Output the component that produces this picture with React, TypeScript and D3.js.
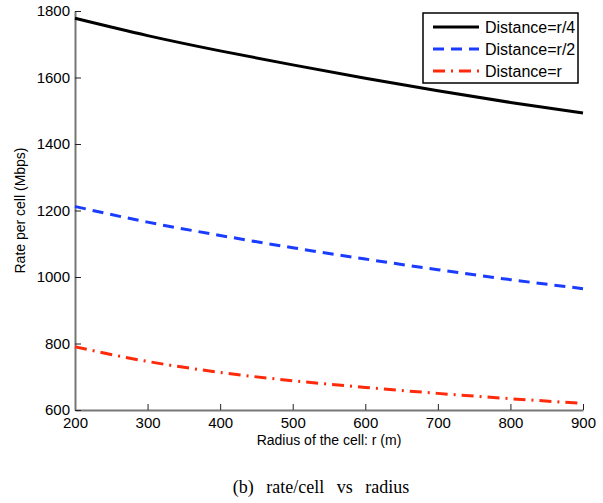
import React, { useEffect, useRef } from "react";
import * as d3 from "d3";

const radius = [200, 300, 400, 500, 600, 700, 800, 900];
const quarter = [1778, 1726, 1680, 1638, 1598, 1560, 1525, 1493];
const half = [1212, 1165, 1125, 1088, 1054, 1022, 992, 965];
const full = [790, 746, 713, 688, 668, 650, 634, 620];
const xTicks = [200, 300, 400, 500, 600, 700, 800, 900];
const yTicks = [600, 800, 1000, 1200, 1400, 1600, 1800];

const series = [
    { name: "Distance=r/4", values: quarter, color: "#000000", dash: null },
    { name: "Distance=r/2", values: half, color: "#1a3cff", dash: "11,7" },
    { name: "Distance=r", values: full, color: "#ff2a0a", dash: "12,6,2,6" },
];

const App = () => {
    const ref = useRef<SVGSVGElement>(null);

    useEffect(() => {
        const svg = d3.select(ref.current);
        svg.selectAll("*").remove();

        const left = 75, right = 583, top = 11, bottom = 410;
        const font = "Liberation Sans, Arial, Helvetica, sans-serif";

        const x = d3.scaleLinear().domain([200, 900]).range([left, right]);
        const y = d3.scaleLinear().domain([600, 1800]).range([bottom, top]);

        svg.append("rect").attr("width", 603).attr("height", 503).attr("fill", "#fff");

        // axes, ticks pointing inward
        const xAxis = svg.append("g")
            .attr("transform", `translate(0,${bottom})`)
            .call(d3.axisBottom(x).tickValues(xTicks).tickFormat(d3.format("d"))
                .tickSize(-6).tickSizeOuter(0).tickPadding(7));
        const yAxis = svg.append("g")
            .attr("transform", `translate(${left},0)`)
            .call(d3.axisLeft(y).tickValues(yTicks).tickFormat(d3.format("d"))
                .tickSize(-6).tickSizeOuter(0).tickPadding(5));

        [xAxis, yAxis].forEach(g => {
            g.select(".domain").attr("stroke", "#777").attr("stroke-width", 2);
            g.selectAll(".tick line").attr("stroke", "#222");
            g.selectAll("text").attr("font-family", font).attr("font-size", 15).attr("fill", "#000");
        });

        // lines
        const line = d3.line<number>()
            .x((d, i) => x(radius[i]))
            .y(d => y(d))
            .curve(d3.curveMonotoneX);

        series.forEach(s => {
            svg.append("path")
                .attr("d", line(s.values))
                .attr("fill", "none")
                .attr("stroke", s.color)
                .attr("stroke-width", 3)
                .attr("stroke-dasharray", s.dash);
        });

        // axis labels
        svg.append("text")
            .attr("x", (left + right) / 2).attr("y", 445)
            .attr("text-anchor", "middle")
            .attr("font-family", font).attr("font-size", 14)
            .text("Radius of the cell: r (m)");

        svg.append("text")
            .attr("transform", `translate(25,${(top + bottom) / 2}) rotate(-90)`)
            .attr("text-anchor", "middle")
            .attr("font-family", font).attr("font-size", 14)
            .text("Rate per cell (Mbps)");

        // legend
        const legend = svg.append("g").attr("transform", "translate(423,13)");
        legend.append("rect")
            .attr("width", 155).attr("height", 70)
            .attr("fill", "#fff").attr("stroke", "#000").attr("stroke-width", 1.5);
        series.forEach((s, i) => {
            const ly = 14 + i * 22;
            legend.append("line")
                .attr("x1", 10).attr("x2", 56).attr("y1", ly).attr("y2", ly)
                .attr("stroke", s.color).attr("stroke-width", 3)
                .attr("stroke-dasharray", s.dash);
            legend.append("text")
                .attr("x", 62).attr("y", ly + 6)
                .attr("font-family", font).attr("font-size", 16)
                .text(s.name);
        });

        // caption
        svg.append("text")
            .attr("x", 321).attr("y", 493)
            .attr("text-anchor", "middle")
            .attr("font-family", "Liberation Serif, Times New Roman, serif")
            .attr("font-size", 18).attr("word-spacing", 8)
            .text("(b) rate/cell vs radius");
    }, []);

    return (
        <svg ref={ref} width={603} height={503} style={{ position: "absolute", left: 0, top: 0 }}></svg>
    );
};

export default App;
